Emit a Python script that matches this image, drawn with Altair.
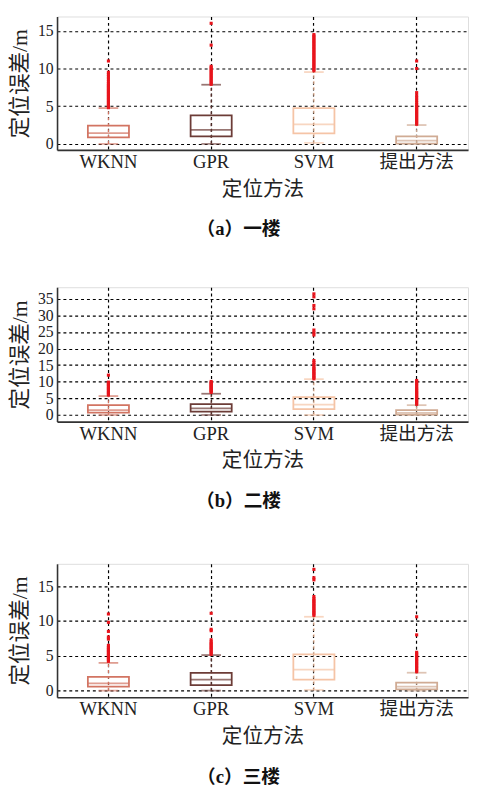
import altair as alt
import pandas as pd

methods = ["WKNN", "GPR", "SVM", "提出方法"]
colors = ["#d27462", "#6c3c37", "#f5c4a6", "#d0ab94"]
x_title = "定位方法"
y_title = "定位误差/m"
captions = ["（a）一楼", "（b）二楼", "（c）三楼"]

# ---- floor 1 box statistics (per method) ----
f1_lo = [0.0, 0.0, 0.13, 0.0]
f1_q1 = [0.87, 1.0, 1.38, 0.04]
f1_med = [1.42, 1.85, 2.59, 0.43]
f1_q3 = [2.42, 3.79, 4.75, 1.0]
f1_hi = [4.75, 7.85, 9.53, 2.5]
f1_out_wknn = [4.8, 5.0, 5.2, 5.4, 5.6, 5.8, 6.0, 6.2, 6.4, 6.6, 6.8, 7.0, 7.2, 7.4,
               7.6, 7.8, 8.0, 8.3, 8.6, 8.9, 9.2, 9.5, 11.0]
f1_out_gpr = [7.9, 8.1, 8.3, 8.5, 8.7, 8.9, 9.1, 9.3, 9.5, 9.7, 9.9, 10.1, 10.3, 13.1, 16.0]
f1_out_svm = [9.7, 9.9, 10.1, 10.3, 10.5, 10.7, 10.9, 11.1, 11.3, 11.5, 11.7, 11.9, 12.1,
              12.3, 12.5, 12.7, 12.9, 13.1, 13.3, 13.5, 13.7, 13.9, 14.1, 14.3, 14.5]
f1_out_prop = [2.6, 2.8, 3.0, 3.2, 3.4, 3.6, 3.8, 4.0, 4.2, 4.4, 4.6, 4.8, 5.0, 5.2,
               5.5, 5.8, 6.1, 6.4, 6.8, 10.0, 11.0]
f1_ticks = [0, 5, 10, 15]
f1_domain = [-0.8, 16.9]

# ---- floor 2 ----
f2_lo = [0.0, 0.0, 0.0, 0.0]
f2_q1 = [0.7, 1.0, 1.78, 0.1]
f2_med = [1.48, 1.97, 3.14, 0.6]
f2_q3 = [2.96, 3.25, 5.4, 1.48]
f2_hi = [5.7, 6.4, 10.8, 2.96]
f2_out_wknn = [6.0, 6.4, 6.8, 7.2, 7.6, 8.0, 8.4, 8.8, 9.2, 9.6, 9.9, 12.0]
f2_out_gpr = [6.8, 7.1, 7.4, 7.7, 8.0, 8.3, 8.6, 8.9, 9.2, 9.5, 9.8, 10.1]
f2_out_svm = [10.9, 11.3, 11.7, 12.1, 12.5, 12.9, 13.3, 13.7, 14.1, 14.6, 15.2, 15.8,
              16.4, 24.1, 24.8, 25.6, 32.0, 33.0, 35.6, 36.5]
f2_out_prop = [3.2, 3.6, 4.0, 4.4, 4.8, 5.2, 5.6, 6.0, 6.4, 6.8, 7.2, 7.6, 8.0, 8.5,
               9.0, 9.5, 10.0, 10.4]
f2_ticks = [0, 5, 10, 15, 20, 25, 30, 35]
f2_domain = [-2.0, 38.5]

# ---- floor 3 ----
f3_lo = [0.0, 0.0, 0.1, 0.0]
f3_q1 = [0.56, 0.79, 1.59, 0.19]
f3_med = [1.03, 1.59, 3.0, 0.56]
f3_q3 = [1.97, 2.53, 5.2, 1.13]
f3_hi = [3.98, 5.1, 10.6, 2.57]
f3_out_wknn = [4.2, 4.4, 4.6, 4.8, 5.0, 5.2, 5.4, 5.6, 5.8, 6.0, 6.2, 6.5, 7.4, 7.7,
               8.5, 9.8, 11.0]
f3_out_gpr = [5.2, 5.4, 5.6, 5.8, 6.0, 6.2, 6.4, 6.6, 6.8, 7.0, 7.3, 8.6, 8.8, 11.1]
f3_out_svm = [10.8, 11.0, 11.2, 11.4, 11.6, 11.8, 12.0, 12.2, 12.4, 12.6, 12.8, 13.0,
              13.2, 13.5, 15.9, 16.2, 17.4]
f3_out_prop = [2.7, 2.9, 3.1, 3.3, 3.5, 3.7, 3.9, 4.1, 4.3, 4.5, 4.7, 4.9, 5.1, 5.3,
               5.5, 8.0, 10.6]
f3_ticks = [0, 5, 10, 15]
f3_domain = [-0.95, 18.2]

LATIN = "'Liberation Serif', 'Times New Roman', 'Noto Sans CJK SC', serif"
CJK = "'Noto Sans CJK SC', sans-serif"
W = 419


def panel(lo, q1, med, q3, hi, outs, ticks, domain, caption, h):
    box = pd.DataFrame({"method": methods, "lo": lo, "q1": q1, "med": med,
                        "q3": q3, "hi": hi})
    rows = []
    for m, vals in zip(methods, outs):
        for v in vals:
            rows.append({"method": m, "value": v})
    out = pd.DataFrame(rows)

    xenc = alt.X("method:N", sort=methods,
                 scale=alt.Scale(domain=methods, paddingInner=0.6, paddingOuter=0.3),
                 axis=alt.Axis(title=x_title, labelAngle=0, grid=True,
                               bandPosition=0.5, gridColor="#000000",
                               gridDash=[3, 3], gridWidth=1.2, gridOpacity=1,
                               ticks=False, domainColor="#333333", domainWidth=1.6,
                               labelFont=LATIN, labelFontSize=19, labelColor="#222222",
                               labelPadding=3, titleFont=CJK, titleFontSize=21,
                               titleFontWeight="normal", titleColor="#222222",
                               titlePadding=7))
    yscale = alt.Scale(domain=domain, nice=False, zero=False)
    yaxis = alt.Axis(title=y_title, values=ticks, grid=True, gridColor="#000000",
                     gridDash=[3, 3], gridWidth=1.2, gridOpacity=1, ticks=False,
                     domainColor="#333333", domainWidth=1.6, labelFont=LATIN,
                     labelFontSize=16, labelColor="#222222", labelPadding=4,
                     labelOverlap=False, titleFont=LATIN, titleFontSize=22,
                     titleFontWeight="normal", titleColor="#222222", titlePadding=6)
    color = alt.Color("method:N", scale=alt.Scale(domain=methods, range=colors),
                      legend=None)

    base = alt.Chart(box)
    whisk = base.mark_rule(strokeWidth=1.2, strokeDash=[3, 3]).encode(
        x=xenc, y=alt.Y("lo:Q", scale=yscale, axis=yaxis), y2="hi:Q", color=color)
    boxes = base.mark_bar(fillOpacity=0, strokeWidth=1.8).encode(
        x=xenc, y=alt.Y("q1:Q", scale=yscale, axis=yaxis), y2="q3:Q", stroke=color)
    meds = base.mark_tick(thickness=1.8, size=42).encode(
        x=xenc, y=alt.Y("med:Q", scale=yscale, axis=yaxis), color=color)
    caps_hi = base.mark_tick(thickness=1.8, size=20).encode(
        x=xenc, y=alt.Y("hi:Q", scale=yscale, axis=yaxis), color=color)
    caps_lo = base.mark_tick(thickness=1.8, size=20, opacity=0.6).encode(
        x=xenc, y=alt.Y("lo:Q", scale=yscale, axis=yaxis), color=color)
    pts = alt.Chart(out).mark_square(size=10, filled=True, color="#e8141c",
                                     opacity=1).encode(
        x=xenc, y=alt.Y("value:Q", scale=yscale, axis=yaxis))

    return alt.layer(whisk, boxes, meds, caps_hi, caps_lo, pts).properties(
        width=W, height=h,
        title=alt.TitleParams(caption, orient="bottom", font=LATIN, fontSize=19,
                              fontWeight="bold", color="#111111", frame="bounds",
                              anchor="middle", offset=22))


p1 = panel(f1_lo, f1_q1, f1_med, f1_q3, f1_hi,
           [f1_out_wknn, f1_out_gpr, f1_out_svm, f1_out_prop],
           f1_ticks, f1_domain, captions[0], 136)
p2 = panel(f2_lo, f2_q1, f2_med, f2_q3, f2_hi,
           [f2_out_wknn, f2_out_gpr, f2_out_svm, f2_out_prop],
           f2_ticks, f2_domain, captions[1], 137)
p3 = panel(f3_lo, f3_q1, f3_med, f3_q3, f3_hi,
           [f3_out_wknn, f3_out_gpr, f3_out_svm, f3_out_prop],
           f3_ticks, f3_domain, captions[2], 136)

top_two = alt.vconcat(p1, p2, spacing=47)
chart = alt.vconcat(top_two, p3, spacing=52).properties(
    padding={"left": 0, "top": 0, "right": 0, "bottom": 0}
).configure_view(stroke="#666666", strokeWidth=1.2).configure(background="white")

chart.save("out.html", embed_options={"renderer": "svg", "actions": False})
